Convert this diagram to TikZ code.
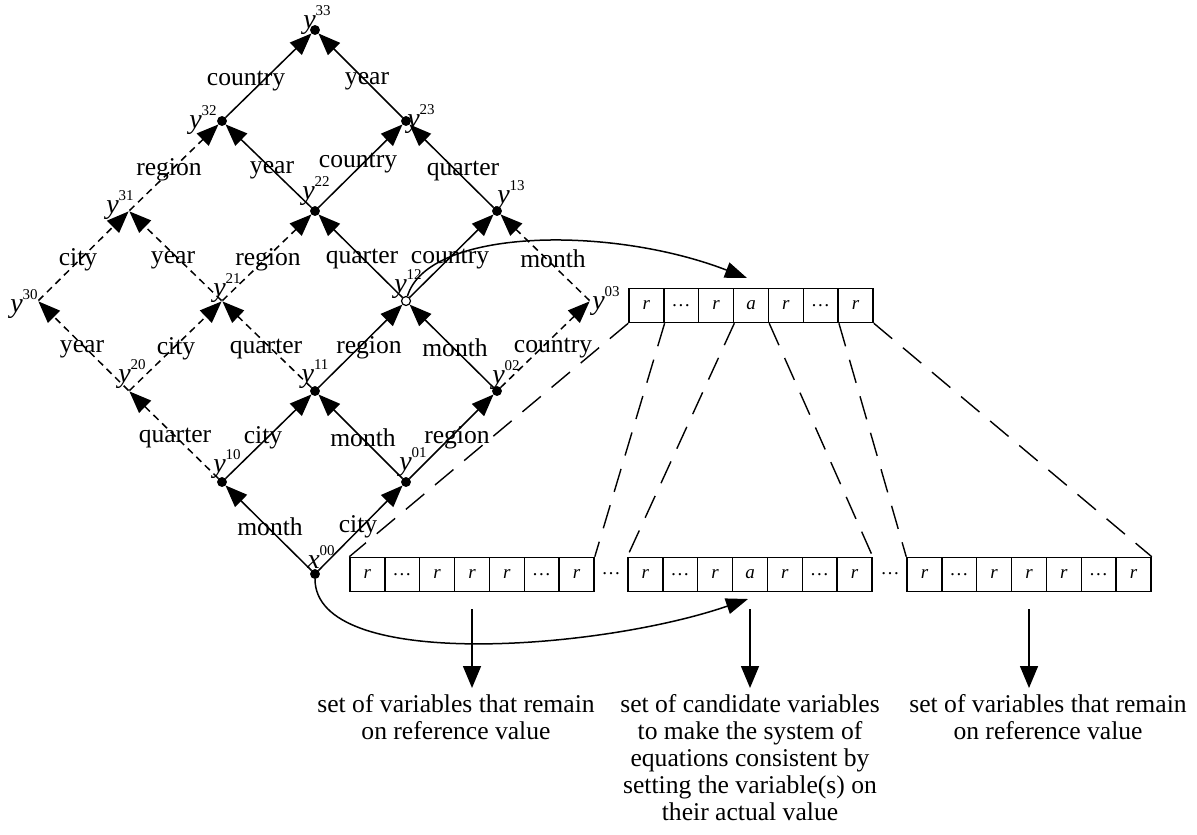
\documentclass[tikz,border=0pt]{standalone}
\usepackage{fontspec}
\setmainfont{Liberation Serif}
\usetikzlibrary{arrows.meta}
\newcommand{\vx}[2]{\textit{#1}\raisebox{1.0ex}{\fontsize{7.5}{7.5}\selectfont #2}}
\begin{document}
\begin{tikzpicture}[x=0.5pt,y=-0.5pt,
  vdot/.style={circle,fill=black,draw=black,inner sep=0pt,minimum size=4.5pt},
  odot/.style={circle,fill=white,draw=black,line width=0.6pt,inner sep=0pt,minimum size=4.5pt},
  bare/.style={inner sep=0pt,minimum size=0pt},
  sol/.style={line width=0.75pt,-{Triangle[length=11pt,width=8.5pt]}},
  dsh/.style={sol,dash pattern=on 3.5pt off 2.5pt},
  lbl/.style={inner sep=0pt,font=\fontsize{12.8}{14}\selectfont},
  vlab/.style={inner sep=0pt,font=\fontsize{14}{14}\selectfont},
  cell/.style={draw,line width=0.75pt,minimum width=17.43pt,minimum height=17pt,inner sep=0pt,font=\fontsize{9.5}{10}\selectfont\itshape},
  zoomline/.style={line width=0.7pt,dash pattern=on 12pt off 7pt},
  carr/.style={line width=0.75pt,-{Triangle[length=11pt,width=8pt]}},
  varr/.style={line width=0.75pt,-{Triangle[length=11pt,width=9pt]},shorten <=8.5pt,shorten >=3pt},
  note/.style={inner sep=0pt,align=center,font=\fontsize{12.8}{13.5}\selectfont},
  gapdots/.style={inner sep=0pt,font=\fontsize{9.5}{10}\selectfont}
]
\useasboundingbox (0,0) rectangle (1197,834);

% lattice vertices
\node[vdot] (x00) at (315,574) {};
\node[vdot] (y10) at (222,482) {};
\node[vdot] (y01) at (406,482) {};
\node[bare] (y20) at (129,391) {};
\node[vdot] (y11) at (315,391) {};
\node[vdot] (y02) at (497,391) {};
\node[bare] (y30) at (38,301) {};
\node[bare] (y21) at (222,301) {};
\node[bare] (y03) at (590,301) {};
\node[bare] (y31) at (129,211) {};
\node[vdot] (y22) at (315,211) {};
\node[vdot] (y13) at (497,211) {};
\node[vdot] (y32) at (222,121) {};
\node[vdot] (y23) at (406,121) {};
\node[vdot] (y33) at (315,30) {};

% curved arrows
\coordinate (tt) at (747,278);
\coordinate (tb) at (748,599);
\node[odot] (y12) at (406,301) {};
\draw[carr] (y12) .. controls (428,228) and (610,225) .. (tt);
\draw[carr] (x00) .. controls (315,672) and (600,650) .. (tb);

% vertex labels
\node[vlab] (ly33) at (317,20) {\vx{y}{33}};
\node[vlab] (ly32) at (203,120) {\vx{y}{32}};
\node[vlab] (ly23) at (421,119) {\vx{y}{23}};
\node[vlab] (ly22) at (316,191) {\vx{y}{22}};
\node[vlab] (ly13) at (511,195) {\vx{y}{13}};
\node[vlab] (ly31) at (120,205) {\vx{y}{31}};
\node[vlab] (ly30) at (24,304) {\vx{y}{30}};
\node[vlab] (ly21) at (227,288) {\vx{y}{21}};
\node[vlab] (ly12) at (408,284) {\vx{y}{12}};
\node[vlab] (ly03) at (606,301) {\vx{y}{03}};
\node[vlab] (ly20) at (132,374) {\vx{y}{20}};
\node[vlab] (ly11) at (315,374) {\vx{y}{11}};
\node[vlab] (ly02) at (506,375) {\vx{y}{02}};
\node[vlab] (ly10) at (227,464) {\vx{y}{10}};
\node[vlab] (ly01) at (413,462) {\vx{y}{01}};
\node[vlab] (lx00) at (321,557) {\vx{x}{00}};

% lattice edges
\draw[sol] (x00) -- (y10);
\draw[sol] (x00) -- (y01);
\draw[dsh] (y10) -- (y20);
\draw[sol] (y10) -- (y11);
\draw[sol] (y01) -- (y11);
\draw[sol] (y01) -- (y02);
\draw[dsh] (y20) -- (y30);
\draw[dsh] (y20) -- (y21);
\draw[dsh] (y11) -- (y21);
\draw[sol] (y11) -- (y12);
\draw[sol] (y02) -- (y12);
\draw[dsh] (y02) -- (y03);
\draw[dsh] (y30) -- (y31);
\draw[dsh] (y21) -- (y31);
\draw[dsh] (y21) -- (y22);
\draw[sol] (y12) -- (y22);
\draw[sol] (y12) -- (y13);
\draw[dsh] (y03) -- (y13);
\draw[dsh] (y31) -- (y32);
\draw[sol] (y22) -- (y32);
\draw[sol] (y22) -- (y23);
\draw[sol] (y13) -- (y23);
\draw[sol] (y32) -- (y33);
\draw[sol] (y23) -- (y33);

% edge labels
\node[lbl] (e01) at (270,527) {month};
\node[lbl] (e02) at (358,527) {city};
\node[lbl] (e03) at (175,438) {quarter};
\node[lbl] (e04) at (263,438) {city};
\node[lbl] (e05) at (363,438) {month};
\node[lbl] (e06) at (457,438) {region};
\node[lbl] (e07) at (82,349) {year};
\node[lbl] (e08) at (176,349) {city};
\node[lbl] (e09) at (266,349) {quarter};
\node[lbl] (e10) at (369,348) {region};
\node[lbl] (e11) at (455,348) {month};
\node[lbl] (e12) at (553,348) {country};
\node[lbl] (e13) at (78,260) {city};
\node[lbl] (e14) at (173,260) {year};
\node[lbl] (e15) at (268,260) {region};
\node[lbl] (e16) at (362,259) {quarter};
\node[lbl] (e17) at (450,259) {country};
\node[lbl] (e18) at (553,259) {month};
\node[lbl] (e19) at (169,170) {region};
\node[lbl] (e20) at (272,170) {year};
\node[lbl] (e21) at (358,163) {country};
\node[lbl] (e22) at (463,171) {quarter};
\node[lbl] (e23) at (246,81) {country};
\node[lbl] (e24) at (367,81) {year};

% arrays
\foreach \t [count=\i] in {r,\ldots,r,a,r,\ldots,r}
  \node[cell] (T\i) at ({629+(\i-0.5)*34.86},305.5) {\t};
\foreach \t [count=\i] in {r,\ldots,r,r,r,\ldots,r}
  \node[cell] (A\i) at ({350+(\i-0.5)*34.86},574.5) {\t};
\foreach \t [count=\i] in {r,\ldots,r,a,r,\ldots,r}
  \node[cell] (B\i) at ({628+(\i-0.5)*34.86},574.5) {\t};
\foreach \t [count=\i] in {r,\ldots,r,r,r,\ldots,r}
  \node[cell] (C\i) at ({907+(\i-0.5)*34.86},574.5) {\t};
\node[gapdots] (g1) at (611,574) {\ldots};
\node[gapdots] (g2) at (890,574) {\ldots};

% zoom lines
\draw[zoomline] (T1.south west) -- (A1.north west);
\draw[zoomline] (T1.south east) -- (A7.north east);
\draw[zoomline] (T3.south east) -- (B1.north west);
\draw[zoomline] (T4.south east) -- (B7.north east);
\draw[zoomline] (T6.south east) -- (C1.north west);
\draw[zoomline] (T7.south east) -- (C7.north east);

% notes
\node[note,anchor=north] (n1) at (456,694) {set of variables that remain\\on reference value};
\node[note,anchor=north] (n2) at (750,694) {set of candidate variables\\to make the system of\\equations consistent by\\setting the variable(s) on\\their actual value};
\node[note,anchor=north] (n3) at (1048,694) {set of variables that remain\\on reference value};
\draw[varr] (A4.south) -- (A4.south |- n1.north);
\draw[varr] (B4.south) -- (B4.south |- n2.north);
\draw[varr] (C4.south) -- (C4.south |- n3.north);
\end{tikzpicture}
\end{document}
